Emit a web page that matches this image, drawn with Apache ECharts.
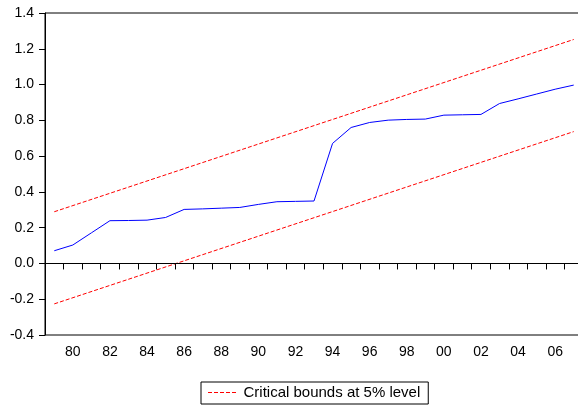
<!DOCTYPE html>
<html>
<head>
<meta charset="utf-8">
<script src="https://cdn.jsdelivr.net/npm/echarts@6/dist/echarts.min.js"></script>
<style>html,body{margin:0;padding:0;background:#fff}#c{width:578px;height:409px}</style>
</head>
<body>
<div id="c"></div>
<script>
var years = ['1979','1980','1981','1982','1983','1984','1985','1986','1987','1988','1989','1990','1991','1992','1993','1994','1995','1996','1997','1998','1999','2000','2001','2002','2003','2004','2005','2006','2007'];
var cusumSq = [0.071,0.103,0.171,0.239,0.240,0.242,0.257,0.302,0.305,0.309,0.313,0.330,0.345,0.347,0.349,0.671,0.760,0.788,0.801,0.805,0.807,0.829,0.831,0.833,0.894,0.920,0.947,0.974,0.997];
// straight critical bounds: only the endpoints, joined through nulls
var upperEnds = [0.289, 1.252];
var lowerEnds = [-0.226, 0.737];
var yTicks = {min: -0.4, max: 1.4, interval: 0.2};
var legendName = 'Critical bounds at 5% level';

function ends(e) {
  var a = years.map(function(){ return null; });
  a[0] = e[0]; a[a.length - 1] = e[1];
  return a;
}
var FONT = "'Liberation Sans', Arial, sans-serif";
var DASH_ICON = 'path://M0,0h4v1h-4z M6,0h4v1h-4z M12,0h4v1h-4z M18,0h4v1h-4z M24,0h4v1h-4z';
var chart = echarts.init(document.getElementById('c'), null, {renderer: 'canvas'});
chart.setOption({
  animation: false,
  backgroundColor: '#fff',
  grid: {left: 45, top: 13, width: 538, height: 322, outerBoundsMode: 'none', containLabel: false,
         show: true, borderColor: '#000', borderWidth: 1, backgroundColor: 'transparent'},
  legend: {
    data: [{name: legendName, icon: DASH_ICON}], left: 201, top: 382,
    borderColor: '#000', borderWidth: 1, padding: [3, 8, 4, 7],
    itemWidth: 29, itemHeight: 1, itemGap: 5,
    textStyle: {fontFamily: FONT, fontSize: 15, color: '#000', lineHeight: 15, padding: [0, 0, 0, 2]}
  },
  xAxis: {
    type: 'category', data: years, boundaryGap: true,
    axisLine: {lineStyle: {color: '#000', width: 1}},
    axisTick: {show: true, interval: 0, length: 6, lineStyle: {color: '#000'}},
    axisLabel: {
      interval: function(i){ return i % 2 === 1; },
      formatter: function(v){ return v.slice(2); },
      fontFamily: FONT, fontSize: 14, color: '#000', margin: 10
    },
    splitLine: {show: false}
  },
  yAxis: {
    type: 'value', min: yTicks.min, max: yTicks.max, interval: yTicks.interval,
    axisLine: {show: true, lineStyle: {color: '#000', width: 1}},
    axisTick: {show: true, length: 6, lineStyle: {color: '#000'}},
    axisLabel: {formatter: function(v){ return v.toFixed(1); }, fontFamily: FONT, fontSize: 14, color: '#000', margin: 11},
    splitLine: {show: false}
  },
  series: [
    {name: 'CUSUM of Squares', type: 'line', data: cusumSq, symbol: 'none',
     lineStyle: {color: '#0000ff', width: 1}, itemStyle: {color: '#0000ff'},
     markLine: {silent: true, symbol: 'none', label: {show: false},
       lineStyle: {color: '#000', width: 1, type: 'solid'}, data: [{yAxis: 0}]}},
    {name: legendName, type: 'line', data: ends(upperEnds), connectNulls: true, symbol: 'none',
     lineStyle: {color: '#ff0000', width: 1, type: [4, 2]}, itemStyle: {color: '#ff0000'}},
    {name: legendName, type: 'line', data: ends(lowerEnds), connectNulls: true, symbol: 'none',
     lineStyle: {color: '#ff0000', width: 1, type: [4, 2]}, itemStyle: {color: '#ff0000'}}
  ]
});
</script>
</body>
</html>
